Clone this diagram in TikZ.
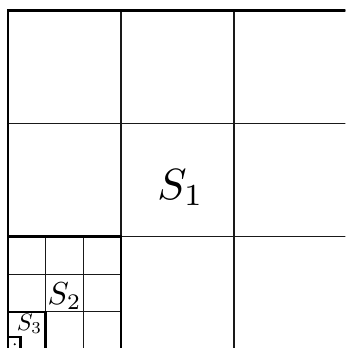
\documentclass[tikz,border=0pt]{standalone}
\usepackage{tikz}
\tikzset{
  thinline/.style={line width=0.9pt, black!90},
  thickline/.style={line width=1.9pt, black},
  sqlabel/.style={inner sep=0pt}
}

\begin{document}
\begin{tikzpicture}
\useasboundingbox (-0.212,0.04) rectangle (8.96,9.28);
\clip (-0.212,0.04) rectangle (8.96,9.28);
% first level: 3x3 cells
\draw[thinline] (0,0) grid[step=3] (9,9);
% second level inside the bottom left cell
\draw[thinline] (0,0) grid[step=1] (3,3);
% nested squares
\draw[thickline] (0,0) rectangle (9,9);
\draw[thickline] (0,0) rectangle (3,3);
\draw[thickline] (0,0) rectangle (1,1);
\draw[thickline] (0,0) rectangle (1/3,1/3);
\fill (0.18,0.14) circle (0.9pt);
% labels
\node[sqlabel, scale=3.3] (s1) at (4.58,4.3) {$S_1$};
\node[sqlabel, scale=2.4] (s2) at (1.5,1.41) {$S_2$};
\node[sqlabel, scale=1.8] (s3) at (0.57,0.68) {$S_3$};
\end{tikzpicture}
\end{document}
